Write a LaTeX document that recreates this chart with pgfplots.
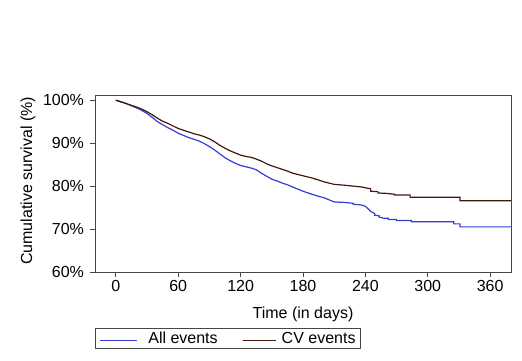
\documentclass[border=0pt]{standalone}
\usepackage{pgfplots}
\pgfplotsset{compat=1.18}
\usepackage{fontspec}
\setmainfont{Liberation Sans}
\definecolor{allblue}{RGB}{55,60,210}
\definecolor{cvbrown}{RGB}{70,22,12}
\definecolor{axgray}{RGB}{70,70,70}
\begin{document}
\begin{tikzpicture}
\useasboundingbox (-95pt,-89pt) rectangle (427pt,272pt);
\begin{axis}[
  name=ax,
  at={(0pt,0pt)}, anchor=south west,
  scale only axis, width=416pt, height=177pt,
  xmin=-20, xmax=380, ymin=60, ymax=101.2,
  xtick={0,60,120,180,240,300,360},
  ytick={60,70,80,90,100},
  yticklabel={\pgfmathprintnumber{\tick}\%},
  /pgf/number format/assume math mode=true,
  yticklabel style={xshift=-2.5pt},
  tick align=outside, major tick length=5pt,
  xtick pos=bottom, ytick pos=left,
  axis line style={axgray, line width=0.9pt},
  tick style={axgray, line width=0.8pt},
  font=\fontsize{16}{18}\selectfont,
  xlabel={Time (in days)},
  ylabel={Cumulative survival (\%)},
  every axis x label/.style={at={(axis description cs:0.5,-0.261)}, anchor=base},
  every axis y label/.style={at={(axis description cs:-0.161,0.515)}, rotate=90, anchor=center},
]
\addplot[draw=allblue, line width=1.2pt] coordinates {
(0,100) (5,99.6) (10,99.2) (15,98.7) (20,98.2) (25,97.6) (30,96.9) (35,96.0) (40,95.0) (45,94.3)
(50,93.6) (55,93.0) (60,92.3) (65,91.8) (70,91.3) (75,90.9) (80,90.5) (85,89.9) (90,89.2) (95,88.4)
(100,87.5) (105,86.6) (110,85.9) (115,85.3) (120,84.8) (125,84.5) (130,84.2) (135,83.8) (140,83.0)
(145,82.3) (150,81.6) (155,81.2) (160,80.7) (165,80.3) (170,79.8) (175,79.3) (180,78.8) (185,78.4)
(190,78.0) (195,77.6) (200,77.3) (205,76.8) (210,76.3) (220,76.2) (228,76.0) (228,75.8) (236,75.6)
(240,75.3) (243,74.6) (245,74.1) (249,73.6) (249,73.2) (253,73.1) (253,72.8) (258,72.5) (262,72.5)
(262,72.2) (270,72.2) (270,72.0) (284,72.0) (284,71.7) (325,71.7) (325,71.2) (331,71.2) (331,70.5) (380,70.5)
};
\addplot[draw=cvbrown, line width=1.2pt] coordinates {
(0,100) (5,99.6) (10,99.2) (15,98.8) (20,98.4) (25,97.9) (30,97.3) (35,96.6) (40,95.8) (45,95.1)
(50,94.6) (55,94.0) (60,93.4) (65,93.0) (70,92.6) (75,92.2) (80,91.9) (85,91.5) (90,91.0) (95,90.3)
(100,89.5) (105,88.8) (110,88.2) (115,87.7) (120,87.2) (125,86.9) (130,86.7) (135,86.3) (140,85.8)
(145,85.2) (150,84.7) (155,84.3) (160,83.9) (165,83.5) (170,83.0) (175,82.7) (180,82.4) (185,82.1)
(190,81.8) (195,81.4) (200,81.0) (205,80.7) (210,80.4) (220,80.2) (228,80.0) (236,79.8) (242,79.5)
(245,79.4) (245,78.8) (252,78.7) (252,78.4) (260,78.3) (268,78.1) (268,77.9) (283,77.9) (283,77.4)
(331,77.4) (331,76.6) (380,76.6)
};
\end{axis}
\node[draw=axgray, line width=0.7pt, anchor=north west, inner xsep=5pt, inner ysep=4pt,
  font=\fontsize{16}{17}\selectfont] at ([yshift=-56pt]ax.south west)
  {\textcolor{allblue}{\rule[3pt]{37pt}{1.4pt}}\hspace{11pt}All events\hspace{25pt}\textcolor{cvbrown}{\rule[3pt]{33pt}{1.4pt}}\hspace{6pt}CV events\hspace{18pt}};
\end{tikzpicture}
\end{document}
